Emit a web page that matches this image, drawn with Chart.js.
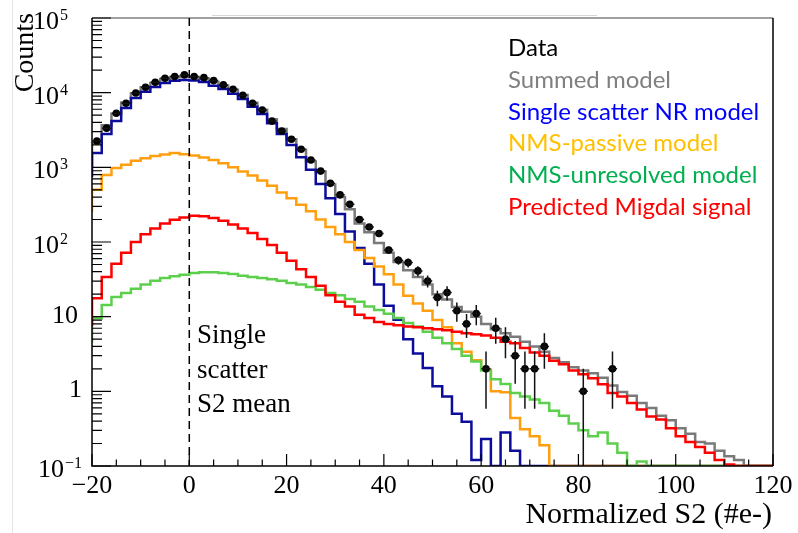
<!DOCTYPE html>
<html>
<head>
<meta charset="utf-8">
<script src="https://cdn.jsdelivr.net/npm/chart.js@4.4.0/dist/chart.umd.min.js"></script>
<style>
  html, body { margin: 0; padding: 0; background: #fff; }
  #wrap { width: 798px; height: 533px; }
</style>
</head>
<body>
<div id="wrap"><canvas id="chart" width="798" height="533"></canvas></div>
<script>
// bin edges of the Normalized S2 histogram (#e-)
var binEdges = [-20,-18,-16,-14,-12,-10,-8,-6,-4,-2,0,2,4,6,8,10,12,14,16,18,20,22,24,26,28,30,32,34,36,38,40,
  42,44,46,48,50,52,54,56,58,60,62,64,66,68,70,72,74,76,78,80,82,84,86,88,90,92,94,96,98,100,
  102,104,106,108,110,112,114,116,118,120];

// counts per bin
var dataCounts = [2250,3350,5300,7200,9900,11800,13800,15600,16400,17300,16400,15900,14500,12700,11100,9200,7200,5860,4160,3060,
  2380,1750,1256,890,610,428,320,200,159,130,78,57,53,41,30,18,21,12,8,11,
  2,7,5,3,2,2,4,0,0,0,1,0,0,2,0,0,0,0,0,0,
  0,0,0,0,0,0,0,0,0,0];

var summedModel = [2100,3650,5200,7400,9800,11800,13500,15200,16200,16500,16200,15500,13900,12500,10900,9300,7300,5900,4400,3250,
  2380,1720,1200,880,590,400,275,177,135,97,72,54,42,34,27,20,17,13.5,11.6,10,
  8,6.8,6.0,5.4,4.6,4.0,3.4,2.8,2.45,2.1,1.9,1.75,1.52,1.2,0.98,0.87,0.7,0.6,0.47,0.41,
  0.32,0.27,0.21,0.2,0.16,0.135,0.12,0,0,0];

var singleScatter = [1560,2800,4160,6230,8500,10300,11900,13500,14400,14800,14500,13900,12400,11200,9700,8200,6500,5190,3890,2800,
  1995,1365,927,600,386,238,138,83,51,27,14,9.1,5.0,3.2,2.05,1.17,0.85,0.5,0.39,0.12,
  0.23,0,0.28,0.16,0,0,0,0,0,0,0,0,0,0,0,0,0,0,0,0,
  0,0,0,0,0,0,0,0,0,0];

var nmsPassive = [500,790,980,1080,1225,1320,1420,1490,1550,1500,1440,1350,1256,1130,1000,880,780,665,565,460,
  386,316,258,200,159,127,100,78,61,47,37,27,19,15,12,9,7.2,4.4,3.4,2.6,
  1.95,1.0,0.97,0.44,0.31,0.25,0.19,0,0,0,0,0,0,0,0,0,0,0,0,0,
  0,0,0,0,0,0,0,0,0,0];

var nmsUnresolved = [9.5,14.3,18.3,20.8,23.7,27,30.3,32.9,34.9,36.5,38.5,39.2,39.2,38.5,37.3,35.4,34,33,31.7,30.3,
  28.2,27,25,22.9,20.8,19.3,17.2,15.9,13.7,12.3,10.9,9.6,8.2,7.4,6.3,5.2,4.4,3.7,3.0,2.5,
  1.9,1.45,1.25,0.95,0.85,0.78,0.7,0.55,0.47,0.37,0.3,0.25,0.28,0.2,0.15,0,0.115,0,0,0,
  0,0,0,0,0,0,0,0,0,0];

var migdal = [17.7,34,51,72,100,127,152,177,198,213,225,222,209,192,172,152,132,110,91,72,
  56,43,34,26,19.3,15.9,13.7,10.6,9.6,8.5,8.0,7.7,7.4,7.2,7.0,6.8,6.6,6.3,6.0,5.8,
  5.6,5.2,4.6,4.4,3.8,3.3,3.0,2.56,2.3,1.9,1.7,1.5,1.24,0.95,0.85,0.7,0.57,0.46,0.42,0.32,
  0.25,0.21,0.18,0.15,0.12,0.105,0,0,0,0];

// height of the step at the left edge, below the first bin
var leadIn = { summed: 1000, single: 740, passive: 250, unresolved: 4.5, migdal: 7.5 };

var xTickValues = [-20, 0, 20, 40, 60, 80, 100, 120];
var xTickLabels = ['\u221220', '0', '20', '40', '60', '80', '100', '120'];
var yTickValues = [1e5, 1e4, 1e3, 100, 10, 1, 0.1];
var yTickBase = ['10', '10', '10', '10', '10', '1', '10'];
var yTickExp = ['5', '4', '3', '2', '', '', '\u22121'];

var legendLabels = ['Data', 'Summed model', 'Single scatter NR model', 'NMS-passive model', 'NMS-unresolved model', 'Predicted Migdal signal'];
var legendColors = ['#000000', '#808080', '#0000ff', '#ffc000', '#00b050', '#ff0000'];

var Y_MIN = 0.1, Y_MAX = 1e5;

function floorVal(v) { return v > Y_MIN ? v : Y_MIN; }

function histPoints(vals, lead) {
  var pts = [{ x: binEdges[0], y: floorVal(lead) }];
  vals.forEach(function(v, i) { pts.push({ x: binEdges[i], y: floorVal(v) }); });
  pts.push({ x: binEdges[binEdges.length - 1], y: floorVal(vals[vals.length - 1]) });
  return pts;
}

var dataPoints = [];
dataCounts.forEach(function(c, i) {
  if (c > 0) dataPoints.push({ x: (binEdges[i] + binEdges[i + 1]) / 2, y: c });
});

function histSet(label, vals, lead, color) {
  return {
    type: 'line', label: label, data: histPoints(vals, lead),
    borderColor: color, borderWidth: 2.5, pointRadius: 0, stepped: true,
    fill: false, tension: 0, borderJoinStyle: 'miter'
  };
}

var serif = '"Liberation Serif", "Times New Roman", serif';

var rootStyle = {
  id: 'rootStyle',
  afterDatasetsDraw: function(chart) {
    var ctx = chart.ctx, xs = chart.scales.x, ys = chart.scales.y, a = chart.chartArea;
    ctx.save();

    // error bars
    ctx.strokeStyle = '#111';
    ctx.lineWidth = 1.5;
    dataPoints.forEach(function(p) {
      var err = Math.sqrt(p.y);
      var px = xs.getPixelForValue(p.x);
      var yHi = ys.getPixelForValue(p.y + err);
      var yLo = (p.y - err) > Y_MIN ? ys.getPixelForValue(p.y - err) : a.bottom;
      var py = ys.getPixelForValue(p.y);
      ctx.beginPath();
      ctx.moveTo(px, yHi); ctx.lineTo(px, yLo);
      ctx.moveTo(xs.getPixelForValue(p.x - 0.95), py); ctx.lineTo(xs.getPixelForValue(p.x + 0.95), py);
      ctx.stroke();
    });

    // faint page lines
    ctx.strokeStyle = '#e4e4e4'; ctx.lineWidth = 1;
    ctx.beginPath(); ctx.moveTo(12.5, 0); ctx.lineTo(12.5, 533); ctx.stroke();
    ctx.strokeStyle = '#d6d6d6';
    ctx.beginPath(); ctx.moveTo(212, 15.5); ctx.lineTo(597, 15.5); ctx.stroke();

    // frame
    ctx.lineWidth = 1.5;
    ctx.strokeStyle = '#808080';
    ctx.beginPath(); ctx.moveTo(a.left, a.top); ctx.lineTo(a.right, a.top); ctx.stroke();
    ctx.strokeStyle = '#000';
    ctx.beginPath();
    ctx.moveTo(a.right, a.top); ctx.lineTo(a.right, a.bottom);
    ctx.moveTo(a.left, a.top); ctx.lineTo(a.left, a.bottom); ctx.lineTo(a.right, a.bottom);
    ctx.stroke();

    // y ticks
    ctx.lineWidth = 1.2;
    ctx.beginPath();
    for (var d = -1; d <= 5; d++) {
      var yMaj = ys.getPixelForValue(Math.pow(10, d));
      ctx.moveTo(a.left, yMaj); ctx.lineTo(a.left + 19, yMaj);
      if (d < 5) {
        for (var k = 2; k <= 9; k++) {
          var yMin = ys.getPixelForValue(k * Math.pow(10, d));
          ctx.moveTo(a.left, yMin); ctx.lineTo(a.left + 10, yMin);
        }
      }
    }
    // x ticks
    for (var v = -20; v <= 120; v += 5) {
      var px = xs.getPixelForValue(v);
      var len = (v % 20 === 0) ? 12 : 6.5;
      ctx.moveTo(px, a.bottom); ctx.lineTo(px, a.bottom - len);
    }
    ctx.stroke();

    // dashed single scatter mean line
    ctx.setLineDash([8, 5]);
    ctx.lineWidth = 1.5;
    var x0 = xs.getPixelForValue(0);
    ctx.beginPath(); ctx.moveTo(x0, a.top); ctx.lineTo(x0, a.bottom); ctx.stroke();
    ctx.setLineDash([]);

    // tick labels
    ctx.fillStyle = '#000';
    ctx.font = '26px ' + serif;
    ctx.textAlign = 'center'; ctx.textBaseline = 'alphabetic';
    xTickValues.forEach(function(v, i) {
      ctx.fillText(xTickLabels[i], xs.getPixelForValue(v), 493);
    });
    yTickValues.forEach(function(v, i) {
      var py = ys.getPixelForValue(v);
      var base = yTickBase[i], ex = yTickExp[i];
      ctx.textAlign = 'right';
      if (ex) {
        ctx.font = '16px ' + serif;
        var ew = ctx.measureText(ex).width;
        var right = (ex.length > 1) ? 82 : 68;
        ctx.fillText(ex, right, py + 2);
        ctx.font = '26px ' + serif;
        ctx.fillText(base, right - ew - 1, py + 11);
      } else {
        ctx.font = '26px ' + serif;
        ctx.fillText(base, base === '1' ? 82 : 78, py + 6);
      }
    });

    // axis titles
    ctx.font = '30px ' + serif;
    ctx.textAlign = 'right';
    ctx.fillText('Normalized S2 (#e-)', 772, 523);
    ctx.save();
    ctx.translate(33, 13);
    ctx.rotate(-Math.PI / 2);
    ctx.font = '28px ' + serif;
    ctx.textAlign = 'right';
    ctx.fillText('Counts', 0, 0);
    ctx.restore();

    // annotation
    ctx.textAlign = 'left';
    ctx.font = '27px ' + serif;
    ctx.fillText('Single', 197, 343);
    ctx.fillText('scatter', 197, 378);
    ctx.fillText('S2 mean', 197, 412);

    // legend text
    ctx.font = '24px Lato, "Open Sans", sans-serif';
    legendLabels.forEach(function(t, i) {
      ctx.fillStyle = legendColors[i];
      ctx.fillText(t, 508, 56 + i * 31.8);
    });

    ctx.restore();
  }
};

new Chart(document.getElementById('chart'), {
  data: {
    datasets: [
      { type: 'scatter', label: 'Data', data: dataPoints, pointRadius: 3.8,
        pointBackgroundColor: '#000', pointBorderWidth: 0, showLine: false },
      histSet('Predicted Migdal signal', migdal, leadIn.migdal, '#ff0000'),
      histSet('NMS-unresolved model', nmsUnresolved, leadIn.unresolved, '#5ccf4c'),
      histSet('NMS-passive model', nmsPassive, leadIn.passive, '#ff9e0f'),
      histSet('Single scatter NR model', singleScatter, leadIn.single, '#0c0c9c'),
      histSet('Summed model', summedModel, leadIn.summed, '#7a7a7a')
    ]
  },
  options: {
    responsive: false,
    devicePixelRatio: 1,
    animation: false,
    events: [],
    layout: { padding: { left: 92, right: 25, top: 18, bottom: 67 } },
    plugins: { legend: { display: false }, tooltip: { enabled: false } },
    scales: {
      x: { type: 'linear', min: -20, max: 120, display: false },
      y: { type: 'logarithmic', min: Y_MIN, max: Y_MAX, display: false }
    }
  },
  plugins: [rootStyle]
});
</script>
</body>
</html>
